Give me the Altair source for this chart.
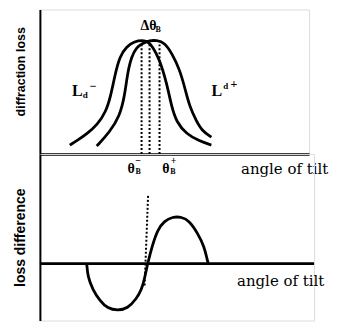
import altair as alt
import pandas as pd

# ---- top panel: diffraction loss vs angle of tilt (arbitrary units) ----
ld_minus_x = [30, 38, 47, 58, 66, 71, 75, 80, 87, 95, 103, 108, 113, 120, 127, 132, 137, 147, 160, 172]
ld_minus_y = [9, 14, 20, 30, 42, 58, 78, 98, 108, 113, 114, 113, 108, 95, 72, 48, 32, 20, 13, 9]
ld_plus_x = [57, 70, 80, 85, 88, 92, 97, 103, 110, 117, 125, 133, 140, 145, 150, 157, 163, 172]
ld_plus_y = [8, 22, 38, 58, 82, 98, 107, 111, 114, 114, 112, 100, 85, 68, 48, 33, 23, 17]
theta_x = [102, 110, 120]
theta_top = 112

# ---- bottom panel: loss difference ----
diff_x = [47, 48, 53, 60, 68, 78, 88, 97, 102, 105, 108, 113, 118, 125, 133, 142, 150, 158, 165, 168, 169]
diff_y = [0, -13, -26, -37, -45, -47, -45, -35, -26, -15, 0, 19, 34, 43, 47, 47, 43, 31, 17, 3, 0]
diff_dot_x = [108.5, 105]
diff_dot_y = [68, -23]
axis_end = 275

# ---- labels ----
top_serif_text = ["Δθ", "B", "L", "d", "−", "L", "d", "+", "θ", "B", "−", "θ", "B", "+"]
top_serif_x = [109, 118.5, 37.5, 45.5, 53.5, 177.5, 186.5, 194.5, 91.5, 98.5, 98.5, 126.5, 133.5, 134]
top_serif_y = [128, 124, 63, 59, 68, 63, 68, 70, -15, -18, -6.5, -15, -18, -6.5]
top_serif_size = [14, 8, 16, 9, 12, 16, 9, 12, 14, 8, 10, 14, 8, 10]
tilt_label = "angle of tilt"
top_tilt_xy = (245.5, -15)
bot_tilt_xy = (241.5, -17)

W_TOP, W_BOT = 270, 275
H_TOP, H_BOT = 145, 167

xs_top = alt.Scale(domain=[0, W_TOP], nice=False, zero=False)
ys_top = alt.Scale(domain=[0, 145], nice=False, zero=False)
xs_bot = alt.Scale(domain=[0, W_BOT], nice=False, zero=False)
ys_bot = alt.Scale(domain=[-57, 110], nice=False, zero=False)

curves = pd.DataFrame(
    {"x": ld_minus_x + ld_plus_x,
     "y": ld_minus_y + ld_plus_y,
     "curve": ["minus"] * len(ld_minus_x) + ["plus"] * len(ld_plus_x),
     "i": list(range(len(ld_minus_x))) + list(range(len(ld_plus_x)))}
)
theta_df = pd.DataFrame({"x": theta_x, "y": [0] * 3, "y2": [theta_top] * 3})
top_lab = pd.DataFrame({"t": top_serif_text, "x": top_serif_x, "y": top_serif_y, "s": top_serif_size})
top_tilt = pd.DataFrame({"t": [tilt_label], "x": [top_tilt_xy[0]], "y": [top_tilt_xy[1]]})

yaxis_top = alt.Axis(title="diffraction loss", ticks=False, labels=False, grid=False,
                     domainColor="black", domainWidth=2, titleFont="Liberation Sans",
                     titleFontSize=12.5, titleFontWeight="bold", titleColor="black", titlePadding=12,
                     titleY=62)
xaxis_top = alt.Axis(title=None, ticks=False, labels=False, grid=False,
                     domainColor="black", domainWidth=2.6)

top_lines = alt.Chart(curves).mark_line(color="black", strokeWidth=2.8, interpolate="basis").encode(
    x=alt.X("x:Q", scale=xs_top, axis=xaxis_top),
    y=alt.Y("y:Q", scale=ys_top, axis=yaxis_top),
    detail="curve:N",
    order="i:Q",
)
top_dots = alt.Chart(theta_df).mark_rule(color="black", strokeWidth=2, strokeDash=[2, 2]).encode(
    x=alt.X("x:Q", scale=xs_top), y=alt.Y("y:Q", scale=ys_top), y2="y2:Q"
)
top_text = alt.Chart(top_lab).mark_text(color="black", font="Liberation Serif", fontWeight="bold").encode(
    x=alt.X("x:Q", scale=xs_top), y=alt.Y("y:Q", scale=ys_top), text="t:N",
    size=alt.Size("s:Q", scale=None, legend=None),
)
top_tilt_text = alt.Chart(top_tilt).mark_text(color="black", font="DejaVu Serif", fontSize=15).encode(
    x=alt.X("x:Q", scale=xs_top), y=alt.Y("y:Q", scale=ys_top), text="t:N"
)
top = alt.layer(top_lines, top_dots, top_text, top_tilt_text).properties(width=W_TOP, height=H_TOP)

diff_df = pd.DataFrame({"x": diff_x, "y": diff_y, "i": list(range(len(diff_x)))})
diff_dot = pd.DataFrame({"x": diff_dot_x, "y": diff_dot_y, "i": [0, 1]})
zero_df = pd.DataFrame({"x": [0], "x2": [axis_end], "y": [0]})
bot_tilt = pd.DataFrame({"t": [tilt_label], "x": [bot_tilt_xy[0]], "y": [bot_tilt_xy[1]]})

yaxis_bot = alt.Axis(title="loss difference", ticks=False, labels=False, grid=False,
                     domainColor="black", domainWidth=2, titleFont="Liberation Sans",
                     titleFontSize=14, titleFontWeight="bold", titleColor="black", titlePadding=12)

bot_zero = alt.Chart(zero_df).mark_rule(color="black", strokeWidth=2.8).encode(
    x=alt.X("x:Q", scale=xs_bot, axis=None), x2="x2:Q",
    y=alt.Y("y:Q", scale=ys_bot, axis=yaxis_bot),
)
bot_line = alt.Chart(diff_df).mark_line(color="black", strokeWidth=2.8, interpolate="basis").encode(
    x=alt.X("x:Q", scale=xs_bot), y=alt.Y("y:Q", scale=ys_bot), order="i:Q"
)
bot_dot = alt.Chart(diff_dot).mark_line(color="black", strokeWidth=2, strokeDash=[2, 2]).encode(
    x=alt.X("x:Q", scale=xs_bot), y=alt.Y("y:Q", scale=ys_bot), order="i:Q"
)
bot_tilt_text = alt.Chart(bot_tilt).mark_text(color="black", font="DejaVu Serif", fontSize=15).encode(
    x=alt.X("x:Q", scale=xs_bot), y=alt.Y("y:Q", scale=ys_bot), text="t:N"
)
bottom = alt.layer(bot_zero, bot_line, bot_dot, bot_tilt_text).properties(width=W_BOT, height=H_BOT)

chart = alt.vconcat(top, bottom, spacing=0, bounds="flush").properties(
    padding={"left": 5, "top": 0, "right": 0, "bottom": 0}
).configure_view(stroke=None).configure(background="white")

chart.save("out.html", embed_options={"renderer": "svg", "actions": False})
